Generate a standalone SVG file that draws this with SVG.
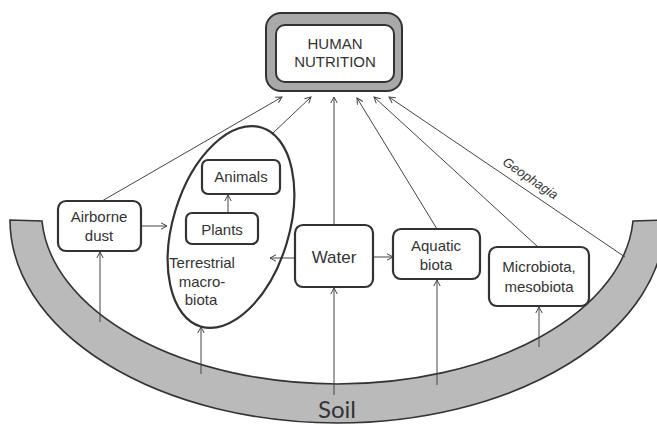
<svg xmlns="http://www.w3.org/2000/svg" width="657" height="424" viewBox="0 0 657 424">
<defs>
<marker id="arr" viewBox="0 0 8 8" refX="7" refY="4" markerWidth="8" markerHeight="8" markerUnits="userSpaceOnUse" orient="auto">
<path d="M1,0.8 L7,4 L1,7.2" fill="none" stroke="#444" stroke-width="1"/>
</marker>
<style>
.box{fill:#fff;stroke:#333;stroke-width:2.2}
.lbl{font-family:"Liberation Sans",Arial,sans-serif;font-size:15px;fill:#333;text-anchor:middle}
.con{stroke:#444;stroke-width:1;fill:none;marker-end:url(#arr)}
</style>
</defs>
<rect width="657" height="424" fill="#fff"/>

<g id="soil">
<path d="M10,220 A327.5,203 0 0 0 665,220 L633,221 A296,173 0 0 1 42,221 Z" fill="#bababa" stroke="#333" stroke-width="1.6"/>
<text x="337" y="418" font-family="Lato,'Open Sans',sans-serif" font-size="24" fill="#333" text-anchor="middle">Soil</text>
</g>

<g id="connectors">
<line class="con" x1="102" y1="201" x2="282" y2="97"/>
<line class="con" x1="273" y1="133" x2="311" y2="97"/>
<line class="con" x1="334" y1="225" x2="334" y2="97"/>
<line class="con" x1="437" y1="229" x2="357" y2="98"/>
<line class="con" x1="538" y1="247" x2="374" y2="97"/>
<line class="con" x1="625" y1="257" x2="389" y2="97"/>
<line class="con" x1="141" y1="226" x2="167" y2="226"/>
<line class="con" x1="228" y1="213" x2="228" y2="195"/>
<line class="con" x1="295" y1="258" x2="270" y2="258"/>
<line class="con" x1="373" y1="257" x2="393" y2="257"/>
<line class="con" x1="100" y1="322" x2="100" y2="252"/>
<line class="con" x1="201" y1="374" x2="201" y2="327"/>
<line class="con" x1="334" y1="395" x2="334" y2="288"/>
<line class="con" x1="437" y1="385" x2="437" y2="280"/>
<line class="con" x1="539" y1="347" x2="539" y2="307"/>
<text x="528" y="182" transform="rotate(34.3 528 182)" font-family="'Liberation Sans',Arial,sans-serif" font-size="13" font-style="italic" fill="#333" text-anchor="middle">Geophagia</text>
</g>

<g id="human-nutrition">
<rect x="266" y="13" width="136" height="78" rx="15" fill="#a9a9a9" stroke="#333" stroke-width="2"/>
<rect x="276" y="25" width="118" height="57" rx="9" fill="#fff" stroke="#333" stroke-width="2"/>
<text class="lbl" x="335" y="49">HUMAN</text>
<text class="lbl" x="335" y="67">NUTRITION</text>
</g>

<g id="terrestrial-macrobiota">
<ellipse cx="231" cy="227" rx="58" ry="104" transform="rotate(17 231 227)" fill="none" stroke="#333" stroke-width="2.2"/>
<text class="lbl" x="202" y="268">Terrestrial</text>
<text class="lbl" x="202" y="287">macro-</text>
<text class="lbl" x="201" y="305">biota</text>
</g>

<g id="animals">
<rect class="box" x="202" y="160" width="78" height="34" rx="6"/>
<text class="lbl" x="241" y="182">Animals</text>
</g>

<g id="plants">
<rect class="box" x="186" y="213" width="72" height="31" rx="6"/>
<text class="lbl" x="222" y="235">Plants</text>
</g>

<g id="airborne-dust">
<rect class="box" x="58" y="201" width="83" height="50" rx="8"/>
<text class="lbl" x="99" y="222">Airborne</text>
<text class="lbl" x="99" y="241">dust</text>
</g>

<g id="water">
<rect class="box" x="295" y="225" width="78" height="62" rx="8"/>
<text class="lbl" x="334" y="263" style="font-size:17px">Water</text>
</g>

<g id="aquatic-biota">
<rect class="box" x="393" y="229" width="87" height="50" rx="8"/>
<text class="lbl" x="436" y="251">Aquatic</text>
<text class="lbl" x="436" y="270">biota</text>
</g>

<g id="microbiota">
<rect class="box" x="489" y="247" width="100" height="59" rx="8"/>
<text class="lbl" x="539" y="272">Microbiota,</text>
<text class="lbl" x="539" y="292">mesobiota</text>
</g>
</svg>
